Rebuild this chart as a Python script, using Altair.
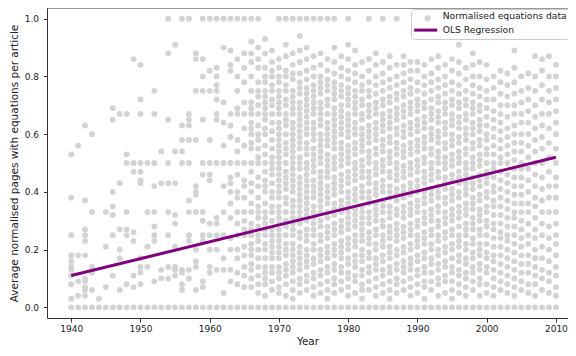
import altair as alt
import pandas as pd

SERIES_PTS = "Normalised equations data"
SERIES_OLS = "OLS Regression"

# Normalised equations data, values in hundredths, one inner list per year
pts_1940s = [
    [0, 3, 8, 11, 13, 14, 16, 18, 25, 38, 53],
    [0, 4, 9, 18, 56],
    [0, 4, 6, 7, 9, 10, 18, 23, 25, 27, 37, 63],
    [0, 6, 12, 14, 33, 60],
    [0, 3],
    [0, 7, 21, 33],
    [0, 11, 25, 32, 35, 40, 65, 69],
    [0, 6, 17, 20, 27, 43, 67],
    [0, 8, 25, 27, 33, 50, 53, 67],
    [0, 7, 11, 23, 26, 47, 50, 86],
]
pts_1950s = [
    [0, 8, 12, 14, 17, 43, 44, 47, 50, 67, 72, 84],
    [0, 14, 21, 33, 50],
    [0, 9, 23, 25, 28, 33, 42, 50, 67, 75],
    [0, 10, 13, 43, 54],
    [0, 10, 14, 25, 33, 43, 50, 65, 88, 100],
    [0, 11, 13, 14, 21, 29, 32, 43, 54, 91],
    [0, 6, 8, 12, 13, 50, 54, 58, 63, 100],
    [0, 10, 13, 23, 25, 33, 37, 50, 58, 63, 65, 67, 100],
    [0, 6, 14, 16, 20, 33, 39, 40, 42, 58, 75, 86, 88],
    [0, 7, 9, 23, 25, 30, 33, 46, 50, 65, 75, 80, 86, 100],
]
pts_1960s = [
    [0, 12, 14, 20, 25, 29, 44, 46, 50, 58, 75, 82, 100],
    [0, 13, 20, 25, 29, 31, 50, 65, 67, 72, 75, 77, 80, 83, 100],
    [0, 5, 13, 17, 25, 33, 42, 50, 56, 64, 71, 90, 100],
    [0, 9, 13, 20, 24, 31, 36, 40, 43, 45, 50, 59, 63, 67, 82, 84, 89, 100],
    [0, 8, 12, 17, 20, 25, 29, 33, 38, 40, 46, 50, 54, 58, 67, 69, 75, 80, 86, 100],
    [0, 7, 11, 14, 18, 21, 25, 27, 30, 33, 38, 42, 44, 50, 56, 62, 67, 71, 78, 83, 88, 100],
    [0, 7, 10, 13, 15, 18, 20, 22, 25, 27, 29, 33, 36, 40, 43, 47, 50, 55, 57, 60, 62, 64, 67, 69, 71, 75, 80, 85, 88, 92, 100],
    [0, 5, 8, 11, 14, 17, 20, 23, 25, 28, 31, 33, 35, 38, 42, 45, 50, 52, 55, 58, 60, 63, 67, 70, 73, 75, 78, 83, 86, 90, 100],
    [0, 4, 8, 10, 12, 14, 17, 20, 22, 25, 27, 29, 31, 33, 36, 40, 42, 44, 47, 50, 53, 56, 60, 62, 65, 67, 69, 71, 73, 75, 78, 80, 83, 88, 93],
    [0, 6, 9, 12, 14, 17, 19, 21, 23, 25, 27, 30, 33, 35, 38, 40, 43, 46, 48, 50, 52, 55, 58, 61, 64, 67, 70, 72, 75, 77, 80, 82, 85, 89],
]
pts_1970s = [
    [0, 5, 7, 10, 12, 14, 17, 19, 21, 23, 25, 27, 29, 31, 33, 35, 38, 40, 42, 44, 46, 48, 50, 52, 54, 56, 58, 60, 62, 64, 67, 69, 71, 73, 75, 78, 80, 83, 86, 100],
    [0, 4, 8, 11, 13, 15, 18, 20, 22, 25, 28, 30, 33, 36, 38, 41, 43, 45, 47, 50, 53, 55, 57, 60, 63, 65, 67, 70, 72, 75, 77, 80, 82, 87, 91, 100],
    [0, 3, 6, 9, 12, 14, 16, 18, 20, 22, 25, 27, 29, 31, 33, 35, 37, 40, 42, 44, 46, 48, 50, 52, 54, 56, 58, 60, 62, 64, 67, 69, 71, 73, 75, 79, 81, 84, 88, 100],
    [0, 5, 8, 10, 13, 15, 17, 19, 21, 24, 26, 29, 31, 33, 35, 37, 39, 41, 43, 45, 48, 50, 52, 55, 57, 59, 61, 63, 65, 67, 69, 71, 74, 76, 78, 81, 85, 89, 94, 100],
    [0, 6, 9, 11, 14, 16, 18, 20, 23, 25, 27, 30, 32, 34, 36, 38, 40, 42, 44, 46, 48, 50, 53, 55, 57, 60, 62, 64, 66, 68, 70, 72, 74, 76, 79, 82, 86, 90, 100],
    [0, 4, 7, 10, 12, 15, 17, 20, 22, 25, 27, 29, 31, 33, 35, 38, 40, 42, 44, 47, 49, 51, 53, 55, 58, 60, 62, 64, 67, 69, 71, 73, 75, 77, 80, 83, 87, 100],
    [0, 5, 8, 11, 13, 16, 18, 20, 23, 25, 28, 30, 33, 35, 37, 39, 41, 43, 45, 47, 50, 52, 54, 56, 58, 60, 63, 65, 67, 69, 71, 74, 76, 78, 80, 84, 88, 100],
    [0, 3, 6, 9, 12, 14, 17, 19, 21, 24, 26, 28, 31, 33, 36, 38, 40, 42, 45, 47, 49, 51, 53, 56, 58, 60, 62, 64, 67, 70, 72, 75, 77, 79, 82, 86, 100],
    [0, 5, 8, 10, 13, 15, 18, 20, 22, 25, 27, 29, 32, 34, 36, 39, 41, 43, 45, 48, 50, 52, 55, 57, 59, 61, 63, 65, 67, 69, 72, 74, 76, 78, 81, 85, 90, 100],
    [0, 6, 9, 12, 14, 17, 19, 21, 23, 26, 28, 30, 33, 35, 37, 40, 42, 44, 46, 49, 51, 53, 55, 57, 60, 62, 64, 66, 68, 70, 73, 75, 77, 80, 83, 87],
]
pts_1980s = [
    [0, 4, 7, 10, 12, 15, 17, 20, 22, 24, 27, 29, 31, 33, 36, 38, 40, 43, 45, 47, 50, 52, 54, 56, 59, 61, 63, 65, 67, 70, 72, 74, 76, 79, 82, 86, 91, 100],
    [0, 5, 9, 11, 14, 16, 18, 21, 23, 25, 28, 30, 32, 34, 37, 39, 41, 44, 46, 48, 50, 53, 55, 57, 60, 62, 64, 67, 69, 71, 73, 75, 78, 81, 84, 89],
    [0, 3, 6, 8, 11, 13, 16, 18, 20, 23, 25, 27, 29, 31, 33, 35, 38, 40, 42, 45, 47, 49, 51, 54, 56, 58, 60, 62, 65, 67, 70, 72, 75, 77, 80, 85],
    [0, 6, 9, 12, 14, 17, 19, 22, 24, 26, 29, 31, 33, 36, 38, 40, 43, 45, 47, 50, 52, 54, 57, 59, 61, 63, 66, 68, 70, 73, 75, 78, 82, 86, 100],
    [0, 4, 7, 10, 13, 15, 17, 20, 22, 25, 27, 30, 32, 34, 36, 39, 41, 43, 46, 48, 50, 53, 55, 58, 60, 62, 64, 67, 69, 71, 74, 77, 80, 84, 88],
    [0, 5, 8, 11, 13, 16, 18, 21, 23, 25, 28, 30, 33, 35, 37, 40, 42, 44, 47, 49, 51, 54, 56, 58, 61, 63, 65, 67, 70, 72, 75, 78, 81, 85, 100],
    [0, 3, 6, 9, 12, 14, 17, 19, 21, 24, 26, 28, 31, 33, 35, 38, 40, 42, 45, 47, 50, 52, 54, 57, 59, 62, 64, 66, 68, 71, 73, 76, 79, 83, 87],
    [0, 5, 8, 10, 13, 15, 18, 20, 23, 25, 27, 29, 32, 34, 37, 39, 41, 44, 46, 48, 50, 53, 55, 57, 60, 62, 65, 67, 69, 72, 74, 77, 80, 84, 100],
    [0, 6, 9, 12, 14, 16, 19, 21, 24, 26, 28, 31, 33, 35, 38, 40, 42, 45, 47, 49, 52, 54, 56, 59, 61, 63, 66, 68, 70, 73, 75, 78, 81, 84, 87],
    [0, 4, 7, 10, 13, 15, 17, 20, 22, 25, 27, 29, 32, 34, 36, 39, 41, 43, 46, 48, 50, 53, 55, 57, 60, 62, 64, 67, 69, 71, 74, 76, 79, 82, 85],
]
pts_1990s = [
    [0, 5, 8, 11, 13, 16, 18, 21, 23, 25, 28, 30, 33, 35, 37, 40, 42, 44, 47, 49, 51, 54, 56, 58, 61, 63, 65, 68, 70, 72, 75, 78, 82, 85],
    [0, 3, 7, 9, 12, 14, 17, 19, 22, 24, 26, 29, 31, 33, 36, 38, 40, 43, 45, 47, 50, 52, 55, 57, 59, 62, 64, 66, 69, 71, 74, 77, 80, 84],
    [0, 6, 9, 12, 15, 17, 20, 22, 25, 27, 30, 32, 34, 37, 39, 41, 44, 46, 48, 50, 53, 55, 58, 60, 62, 65, 67, 69, 72, 75, 78, 81, 86],
    [0, 4, 8, 10, 13, 15, 18, 20, 23, 25, 28, 30, 33, 35, 38, 40, 42, 45, 47, 50, 52, 54, 57, 59, 61, 64, 66, 68, 71, 73, 76, 79, 83, 87],
    [0, 5, 9, 11, 14, 16, 19, 21, 24, 26, 29, 31, 33, 36, 38, 41, 43, 45, 48, 50, 52, 55, 57, 60, 62, 64, 67, 69, 71, 74, 77, 80, 84],
    [0, 3, 6, 9, 12, 14, 17, 20, 22, 25, 27, 30, 32, 34, 37, 39, 41, 44, 46, 49, 51, 53, 56, 58, 60, 63, 65, 67, 70, 72, 75, 78, 82, 86],
    [0, 5, 8, 11, 13, 16, 18, 21, 23, 25, 28, 31, 33, 35, 38, 40, 43, 45, 47, 50, 52, 54, 57, 59, 62, 64, 66, 69, 71, 74, 77, 81, 85, 91],
    [0, 4, 7, 10, 12, 15, 17, 20, 22, 25, 27, 29, 32, 34, 36, 39, 41, 43, 46, 48, 50, 53, 55, 58, 60, 62, 65, 67, 70, 72, 75, 79, 83],
    [0, 6, 9, 12, 14, 17, 19, 22, 24, 27, 29, 31, 34, 36, 38, 41, 43, 45, 48, 50, 52, 55, 57, 60, 62, 64, 67, 69, 71, 74, 77, 80, 84, 88],
    [0, 4, 8, 10, 13, 15, 18, 20, 22, 25, 27, 30, 32, 34, 37, 39, 42, 44, 46, 49, 51, 53, 56, 58, 61, 63, 65, 68, 70, 73, 76, 80, 85],
]
pts_2000s = [
    [0, 5, 8, 12, 14, 17, 19, 22, 25, 28, 30, 33, 35, 38, 40, 43, 45, 47, 50, 53, 55, 58, 60, 63, 66, 69, 72, 75, 79, 84],
    [0, 4, 7, 10, 13, 16, 18, 21, 24, 27, 29, 32, 35, 37, 40, 42, 45, 48, 50, 53, 56, 59, 62, 65, 68, 72, 76, 80],
    [0, 6, 9, 12, 15, 18, 21, 24, 26, 29, 32, 35, 38, 41, 44, 47, 50, 52, 55, 58, 61, 64, 67, 70, 74, 78, 82],
    [0, 5, 8, 11, 14, 17, 20, 23, 25, 28, 31, 34, 37, 40, 43, 46, 50, 53, 56, 59, 62, 66, 70, 73, 77, 81],
    [0, 4, 7, 10, 13, 16, 19, 22, 25, 28, 31, 33, 36, 39, 42, 45, 48, 51, 54, 57, 60, 63, 67, 70, 74, 78, 83, 89],
    [0, 6, 9, 12, 15, 18, 21, 24, 27, 30, 33, 36, 39, 42, 45, 48, 50, 54, 57, 60, 64, 67, 71, 75, 80],
    [0, 5, 8, 12, 15, 18, 22, 25, 29, 33, 36, 40, 44, 48, 52, 56, 60, 64, 68, 72, 76, 81],
    [0, 4, 8, 11, 14, 17, 20, 24, 27, 31, 35, 38, 42, 46, 50, 54, 58, 62, 66, 70, 75, 80, 87],
    [0, 6, 10, 13, 17, 21, 25, 29, 33, 37, 41, 45, 50, 55, 59, 63, 67, 72, 77, 82, 86],
    [0, 5, 9, 12, 16, 20, 24, 28, 33, 38, 42, 47, 52, 57, 62, 67, 71, 75, 80, 87],
    [0, 4, 7, 11, 14, 18, 22, 25, 29, 33, 38, 42, 45, 50, 55, 60, 64, 68, 72, 76, 80, 84],
]
decade_starts = [1940, 1950, 1960, 1970, 1980, 1990, 2000]

# OLS regression line end points
ols_years = [1940, 2010]
ols_values = [0.11, 0.52]

x_ticks = [1940, 1950, 1960, 1970, 1980, 1990, 2000, 2010]
y_ticks = [0.0, 0.2, 0.4, 0.6, 0.8, 1.0]

rows = []
for start, block in zip(decade_starts, [pts_1940s, pts_1950s, pts_1960s, pts_1970s,
                                        pts_1980s, pts_1990s, pts_2000s]):
    for i, vals in enumerate(block):
        for v in vals:
            rows.append({"year": start + i, "value": v / 100.0, "series": SERIES_PTS})
pts_df = pd.DataFrame(rows)
ols_df = pd.DataFrame({"year": ols_years, "value": ols_values,
                       "series": [SERIES_OLS] * len(ols_years)})
frame_df = pd.DataFrame({"k": [0]})

FONT = "DejaVu Sans"
W, H = 521, 310
LEG_X = 364

x_scale = alt.Scale(domain=[1936.5, 2011.75], nice=False, zero=False)
y_scale = alt.Scale(domain=[-0.037, 1.037], nice=False, zero=False)

x_axis = alt.Axis(title="Year", values=x_ticks, format="d", grid=False,
                  tickSize=4, labelPadding=2, titlePadding=3,
                  labelFontSize=9, titleFontSize=10.5)
y_axis = alt.Axis(title="Average normalised pages with equations per article",
                  values=y_ticks, format=".1f", grid=False,
                  tickSize=3.5, labelPadding=5, titlePadding=5,
                  labelFontSize=9, titleFontSize=10.5)

points = alt.Chart(pts_df).mark_circle(size=34, opacity=1).encode(
    x=alt.X("year:Q", scale=x_scale, axis=x_axis),
    y=alt.Y("value:Q", scale=y_scale, axis=y_axis),
    color=alt.Color(
        "series:N",
        scale=alt.Scale(domain=[SERIES_PTS], range=["#d3d3d3"]),
        legend=alt.Legend(title=None, orient="none", legendX=LEG_X + 9.6, legendY=3.3,
                          labelExpr="''", symbolType="circle", symbolSize=40,
                          symbolStrokeWidth=0, symbolOpacity=1, padding=2,
                          zindex=3),
    ),
)

line = alt.Chart(ols_df).mark_line(strokeWidth=3, color="#800080").encode(
    x=alt.X("year:Q", scale=x_scale, axis=x_axis),
    y=alt.Y("value:Q", scale=y_scale, axis=y_axis),
    stroke=alt.Stroke(
        "series:N",
        scale=alt.Scale(domain=[SERIES_PTS, SERIES_OLS], range=["transparent", "#800080"]),
        legend=alt.Legend(title=None, orient="none", legendX=LEG_X, legendY=1,
                          fillColor="rgba(255,255,255,0.8)", strokeColor="#cccccc",
                          cornerRadius=3, padding=2.5, rowPadding=1,
                          symbolType="M-1.3,0H6.37", symbolSize=36, symbolStrokeWidth=3,
                          labelOffset=20, labelFont=FONT, labelFontSize=9.2,
                          labelColor="#222222", labelLimit=0, zindex=2),
    ),
)

top_border = alt.Chart(frame_df).mark_rule(color="#333333", strokeWidth=1).encode(
    x=alt.value(0), x2=alt.value(W), y=alt.value(0)
)

chart = alt.layer(points, line, top_border).properties(
    width=W, height=H,
    autosize=alt.AutoSizeParams(type="none"),
    padding={"left": 39, "top": 0, "right": 0, "bottom": 30},
).configure_view(stroke=None).configure_axis(
    labelFont=FONT, titleFont=FONT, labelColor="#222222", titleColor="#222222",
    titleFontWeight="normal", domainColor="#333333", tickColor="#333333",
    domainWidth=1, tickWidth=1,
).configure_legend(labelFont=FONT)

chart.save("out.html", embed_options={"renderer": "svg", "actions": False})
